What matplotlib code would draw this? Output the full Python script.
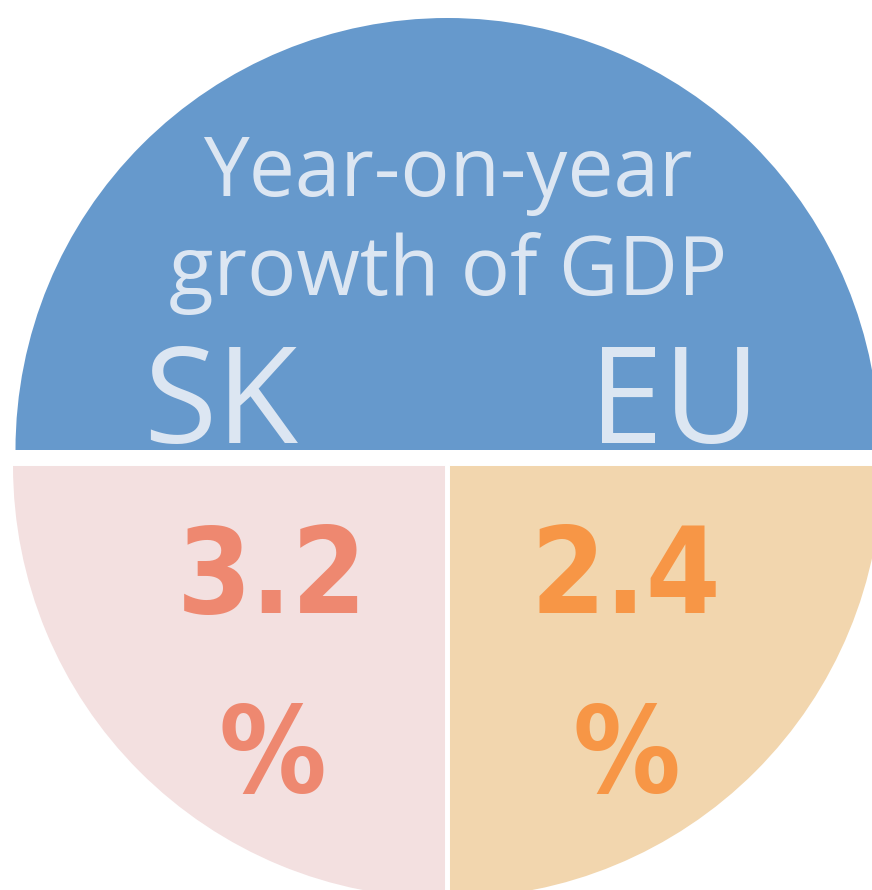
import matplotlib
matplotlib.use("Agg")
import matplotlib.pyplot as plt

# segment shares of the circle: top half, bottom-right, bottom-left
segments = [2, 1, 1]
segment_colors = ["#6699CC", "#F2D6AE", "#F3E0E0"]

title_lines = ["Year-on-year", "growth of GDP"]
countries = ["SK", "EU"]
growth = [3.2, 2.4]
value_colors = ["#EE8870", "#F79646"]
light = "#DCE6F2"

fig = plt.figure(figsize=(8.72, 8.90), dpi=100)
ax = fig.add_axes([0, 0, 1, 1])

# y axis runs downward (pixel-like), so start at 180 deg to get the top half first
ax.pie(segments, colors=segment_colors, startangle=180, counterclock=True,
       center=(447.5, 463.5), radius=432, explode=[13.5, 3.5, 3.5],
       wedgeprops=dict(linewidth=0))

ax.set_xlim(0, 872)
ax.set_ylim(890, 0)
ax.set_aspect("auto")
ax.axis("off")

# title in the blue half
for line, yb in zip(title_lines, [196, 295]):
    ax.text(448, yb, line, ha="center", va="baseline", fontsize=59,
            family="Open Sans", color=light)

# country names
for name, xc in zip(countries, [221, 675]):
    ax.text(xc, 443, name, ha="center", va="baseline", fontsize=96,
            family="Open Sans", color=light)

# values and percent signs
for val, col, xc in zip(growth, value_colors, [272, 626]):
    ax.text(xc, 613, f"{val:.1f}", ha="center", va="baseline", fontsize=86,
            family="DejaVu Sans", fontstretch="condensed", fontweight="bold",
            color=col)
    ax.text(xc, 792, "%", ha="center", va="baseline", fontsize=86,
            family="DejaVu Sans", fontstretch="condensed", fontweight="bold",
            color=col)

fig.savefig("out.png", dpi=100)
